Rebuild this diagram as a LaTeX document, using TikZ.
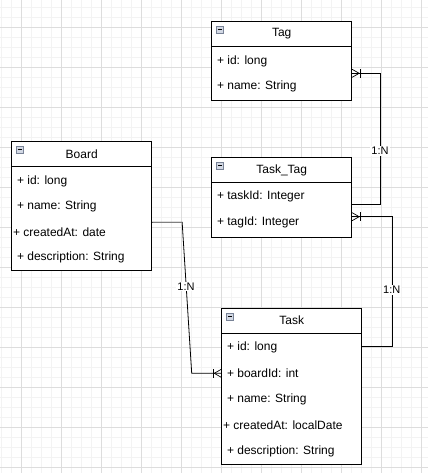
\documentclass[tikz,border=0pt]{standalone}
\usepackage{fontspec}
\setmainfont{Liberation Sans}
\usetikzlibrary{calc}

\definecolor{gridminor}{RGB}{243,243,243}
\definecolor{gridmajor}{RGB}{221,221,221}
\definecolor{iconfill}{RGB}{210,216,228}
\definecolor{iconline}{RGB}{120,130,150}

\tikzset{
 entity/.style={draw=black, line width=.9pt, fill=white, inner sep=0pt},
 ename/.style={inner sep=0pt, font=\fontsize{12}{14}\selectfont},
 attr/.style={anchor=west, inner sep=0pt, font=\fontsize{12}{14}\selectfont},
 card/.style={fill=white, inner sep=1pt, font=\fontsize{11}{13}\selectfont},
 rel/.style={black, line width=.8pt},
 icon/.style={draw=iconline, fill=iconfill, minimum size=7pt, inner sep=0pt, line width=.6pt,
   path picture={\draw[black, line width=1pt] ($(path picture bounding box.west)+(1.5pt,0pt)$) -- ($(path picture bounding box.east)+(-1.5pt,0pt)$);}},
 crowfoot/.pic={\draw[rel, line width=.7pt] (0,-4) -- (7,0) -- (0,4); \draw[rel, line width=.7pt] (8,-4.5) -- (8,4.5);}
}

\begin{document}
\begin{tikzpicture}[x=1pt, y=-1pt]
\useasboundingbox (0,0) rectangle (428,473);

% background grid
\foreach \x in {1.7, 11.7, ..., 421.7}
 \draw[gridminor, line width=1.2pt] (\x,0)--(\x,473);
\foreach \y in {7.3, 17.3, ..., 467.3}
 \draw[gridminor, line width=1.2pt] (0,\y)--(428,\y);
\foreach \x in {21.7, 61.7, ..., 421.7}
 \draw[gridmajor, line width=.8pt] (\x,0)--(\x,473);
\foreach \y in {27.3, 67.3, ..., 467.3}
 \draw[gridmajor, line width=.8pt] (0,\y)--(428,\y);

% Tag
\node[entity, minimum width=140pt, minimum height=79pt] (tag) at (281.7,61.2) {};
\draw[entity] ($(tag.north west)+(0,25.6)$) -- ($(tag.north east)+(0,25.6)$);
\node[icon] (tag-icon) at ($(tag.north west)+(8.5,8.5)$) {};
\node[ename] (tag-title) at ($(tag.north)+(0,12.8)$) {Tag};
\foreach \dx/\dy/\txt [count=\i] in {5.6/40/+ id: long, 5.6/65.3/+ name: String}
 \node[attr] (tag-\i) at ($(tag.north west)+(\dx,\dy)$) {\txt};

% Board
\node[entity, minimum width=140pt, minimum height=129pt] (board) at (81.7,206.2) {};
\draw[entity] ($(board.north west)+(0,25.6)$) -- ($(board.north east)+(0,25.6)$);
\node[icon] (board-icon) at ($(board.north west)+(8.5,8.5)$) {};
\node[ename] (board-title) at ($(board.north)+(0,12.8)$) {Board};
\foreach \dx/\dy/\txt [count=\i] in {5.6/40/+ id: long, 5.6/65.6/+ name: String, 1.6/91/+ createdAt: date, 5.6/116.6/+ description: String}
 \node[attr] (board-\i) at ($(board.north west)+(\dx,\dy)$) {\txt};

% Task_Tag
\node[entity, minimum width=140pt, minimum height=80pt] (tasktag) at (281.7,197.3) {};
\draw[entity] ($(tasktag.north west)+(0,26)$) -- ($(tasktag.north east)+(0,26)$);
\node[icon] (tasktag-icon) at ($(tasktag.north west)+(8.5,8.5)$) {};
\node[ename] (tasktag-title) at ($(tasktag.north)+(0,13.3)$) {Task\_Tag};
\foreach \dx/\dy/\txt [count=\i] in {5.6/40/+ taskId: Integer, 5.6/65.4/+ tagId: Integer}
 \node[attr] (tasktag-\i) at ($(tasktag.north west)+(\dx,\dy)$) {\txt};

% Task
\node[entity, minimum width=140pt, minimum height=156pt] (task) at (291.7,386.3) {};
\draw[entity] ($(task.north west)+(0,26)$) -- ($(task.north east)+(0,26)$);
\node[icon] (task-icon) at ($(task.north west)+(8.5,8.5)$) {};
\node[ename] (task-title) at ($(task.north)+(0,12.3)$) {Task};
\foreach \dx/\dy/\txt [count=\i] in {5.6/39.4/+ id: long, 5.6/65/+ boardId: int, 5.6/91.7/+ name: String, 1.6/117.7/+ createdAt: localDate, 5.6/143.4/+ description: String}
 \node[attr] (task-\i) at ($(task.north west)+(\dx,\dy)$) {\txt};

% relations
\draw[rel] ($(tasktag.east)+(0,6.7)$) -- ++(28.3,0) |- ($(tag.east)+(0,12.1)$);
\pic at ($(tag.east)+(0,12.1)$) {crowfoot};
\node[card] (card-tag) at (380,151) {1:N};

\draw[rel] ($(task.east)+(0,-39.6)$) -- ++(30,0) |- ($(tasktag.east)+(0,19.4)$);
\pic at ($(tasktag.east)+(0,19.4)$) {crowfoot};
\node[card] (card-task) at (391.7,290) {1:N};

\draw[rel] ($(board.east)+(0,16.1)$) -- ++(30,0) -- (191.7,373.3) -- ($(task.west)+(0,-13)$);
\draw[gray, line width=1.4pt] ($(board.east)+(0.5,16.1)$) -- ++(29.5,0);
\pic[rotate=180] at ($(task.west)+(0,-13)$) {crowfoot};
\node[card] (card-board) at (186,286.7) {1:N};

\end{tikzpicture}
\end{document}
